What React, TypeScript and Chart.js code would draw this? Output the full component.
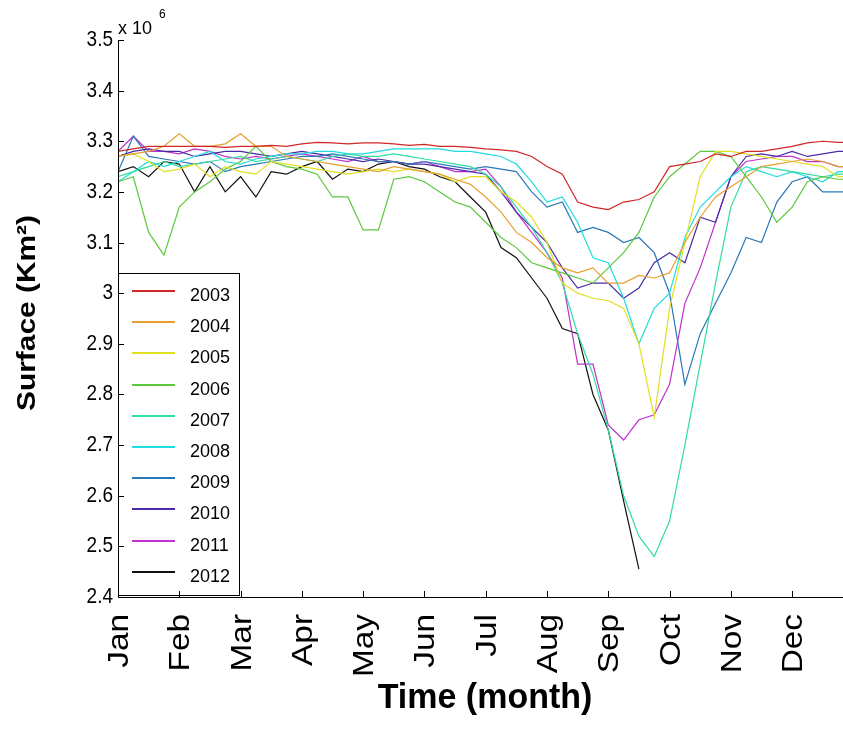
import { useEffect, useRef } from 'react';
import { Chart, registerables } from 'chart.js';

Chart.register(...registerables);

const MONTHS = ['Jan', 'Feb', 'Mar', 'Apr', 'May', 'Jun', 'Jul', 'Aug', 'Sep', 'Oct', 'Nov', 'Dec'];
const MONTH_TICKS = [0, 1, 2, 3, 4, 5, 6, 7, 8, 9, 10, 11];
const Y_TICKS = [2.4, 2.5, 2.6, 2.7, 2.8, 2.9, 3.0, 3.1, 3.2, 3.3, 3.4, 3.5];
const YEARS = ['2003', '2004', '2005', '2006', '2007', '2008', '2009', '2010', '2011', '2012'];
const COLORS = ['#d02828', '#e6a030', '#e0e020', '#5cc83c', '#30dda0', '#20dce0', '#2a78b8', '#4b2aa8', '#c030cc', '#111111'];

// time in months since Jan 1
const T = [0, 0.25, 0.5, 0.75, 1, 1.25, 1.5, 1.75, 2, 2.25, 2.5, 2.75, 3, 3.25, 3.5, 3.75, 4, 4.25, 4.5, 4.75, 5, 5.25, 5.5, 5.75, 6, 6.25, 6.5, 6.75, 7, 7.25, 7.5, 7.75, 8, 8.25, 8.5, 8.75, 9, 9.25, 9.5, 9.75, 10, 10.25, 10.5, 10.75, 11, 11.25, 11.5, 11.75, 12];

// surface, x 10^6 km2
const S2003 = [3.28, 3.285, 3.29, 3.29, 3.29, 3.29, 3.29, 3.288, 3.29, 3.29, 3.292, 3.29, 3.295, 3.298, 3.297, 3.295, 3.297, 3.297, 3.295, 3.292, 3.294, 3.29, 3.29, 3.288, 3.285, 3.283, 3.28, 3.27, 3.25, 3.235, 3.18, 3.17, 3.165, 3.18, 3.185, 3.2, 3.25, 3.255, 3.26, 3.275, 3.27, 3.28, 3.28, 3.285, 3.29, 3.297, 3.3, 3.298, 3.298];
const S2004 = [3.27, 3.275, 3.28, 3.29, 3.315, 3.29, 3.29, 3.295, 3.315, 3.29, 3.29, 3.27, 3.265, 3.26, 3.255, 3.25, 3.245, 3.24, 3.25, 3.245, 3.24, 3.235, 3.225, 3.215, 3.19, 3.16, 3.12, 3.1, 3.07, 3.05, 3.04, 3.05, 3.02, 3.02, 3.035, 3.03, 3.04, 3.1, 3.15, 3.19, 3.21, 3.23, 3.25, 3.255, 3.26, 3.265, 3.26, 3.25, 3.25];
const S2005 = [3.27, 3.275, 3.26, 3.24, 3.245, 3.255, 3.23, 3.25, 3.24, 3.235, 3.26, 3.255, 3.25, 3.245, 3.24, 3.235, 3.24, 3.245, 3.24, 3.245, 3.24, 3.235, 3.22, 3.23, 3.23, 3.2, 3.18, 3.15, 3.1, 3.02, 3.0, 2.99, 2.985, 2.97, 2.9, 2.755, 2.97, 3.1, 3.23, 3.28, 3.28, 3.275, 3.27, 3.265, 3.26, 3.255, 3.25, 3.23, 3.23];
const S2006 = [3.22, 3.23, 3.12, 3.075, 3.17, 3.2, 3.22, 3.245, 3.26, 3.29, 3.26, 3.25, 3.245, 3.235, 3.19, 3.19, 3.125, 3.125, 3.225, 3.23, 3.22, 3.2, 3.18, 3.17, 3.14, 3.11, 3.09, 3.06, 3.05, 3.04, 3.03, 3.02, 3.05, 3.08, 3.12, 3.19, 3.23, 3.255, 3.28, 3.28, 3.27, 3.23, 3.19, 3.14, 3.17, 3.22, 3.23, 3.225, 3.225];
const S2007 = [3.23, 3.24, 3.25, 3.26, 3.25, 3.255, 3.26, 3.265, 3.27, 3.26, 3.265, 3.27, 3.265, 3.26, 3.27, 3.275, 3.27, 3.27, 3.275, 3.27, 3.265, 3.26, 3.255, 3.25, 3.235, 3.21, 3.17, 3.13, 3.08, 3.02, 2.92, 2.84, 2.73, 2.6, 2.52, 2.48, 2.55, 2.7, 2.86, 3.02, 3.17, 3.24, 3.25, 3.245, 3.24, 3.235, 3.23, 3.235, 3.235];
const S2008 = [3.22, 3.24, 3.26, 3.25, 3.26, 3.27, 3.28, 3.26, 3.255, 3.265, 3.27, 3.275, 3.275, 3.28, 3.28, 3.275, 3.275, 3.28, 3.285, 3.285, 3.285, 3.285, 3.28, 3.28, 3.275, 3.27, 3.255, 3.22, 3.18, 3.19, 3.14, 3.07, 3.06, 2.99, 2.9, 2.97, 3.0, 3.11, 3.17, 3.2, 3.23, 3.25, 3.24, 3.23, 3.24, 3.23, 3.22, 3.24, 3.24];
const S2009 = [3.24, 3.31, 3.27, 3.265, 3.26, 3.255, 3.26, 3.24, 3.25, 3.255, 3.26, 3.265, 3.27, 3.27, 3.275, 3.27, 3.265, 3.26, 3.26, 3.255, 3.26, 3.255, 3.25, 3.245, 3.25, 3.245, 3.24, 3.2, 3.17, 3.18, 3.12, 3.13, 3.12, 3.1, 3.11, 3.08, 3.0, 2.82, 2.92, 2.98, 3.04, 3.11, 3.1, 3.18, 3.22, 3.23, 3.2, 3.2, 3.2];
const S2010 = [3.27, 3.28, 3.285, 3.28, 3.28, 3.27, 3.275, 3.28, 3.28, 3.275, 3.27, 3.275, 3.28, 3.275, 3.27, 3.265, 3.26, 3.265, 3.26, 3.255, 3.255, 3.25, 3.245, 3.24, 3.235, 3.2, 3.16, 3.13, 3.1, 3.05, 3.01, 3.02, 3.02, 2.99, 3.01, 3.06, 3.08, 3.06, 3.15, 3.14, 3.23, 3.27, 3.275, 3.27, 3.28, 3.27, 3.275, 3.28, 3.28];
const S2011 = [3.28, 3.31, 3.28, 3.28, 3.275, 3.285, 3.28, 3.27, 3.265, 3.27, 3.265, 3.27, 3.275, 3.27, 3.265, 3.26, 3.27, 3.26, 3.26, 3.255, 3.26, 3.25, 3.24, 3.24, 3.245, 3.21, 3.16, 3.12, 3.08, 3.03, 2.86, 2.86, 2.74, 2.71, 2.75, 2.76, 2.82, 2.98, 3.05, 3.14, 3.23, 3.26, 3.265, 3.27, 3.27, 3.26, 3.26, 3.25, 3.25];
const S2012 = [3.24, 3.25, 3.23, 3.26, 3.255, 3.2, 3.25, 3.2, 3.23, 3.19, 3.24, 3.235, 3.25, 3.26, 3.225, 3.245, 3.24, 3.255, 3.26, 3.25, 3.245, 3.23, 3.22, 3.19, 3.16, 3.09, 3.07, 3.03, 2.99, 2.93, 2.92, 2.8, 2.73, 2.59, 2.455, null, null, null, null, null, null, null, null, null, null, null, null, null, null];

const SERIES = [S2003, S2004, S2005, S2006, S2007, S2008, S2009, S2010, S2011, S2012];

const FONT = '"Liberation Sans", Arial, Helvetica, sans-serif';

function stretchedText(ctx: CanvasRenderingContext2D, text: string, x: number, y: number, font: string, sy: number, rot: number, align: CanvasTextAlign) {
  ctx.save();
  ctx.translate(x, y);
  ctx.scale(1, sy);
  if (rot) ctx.rotate(rot);
  ctx.font = font;
  ctx.fillStyle = '#000';
  ctx.textAlign = align;
  ctx.textBaseline = 'middle';
  ctx.fillText(text, 0, 0);
  ctx.restore();
}

const decor = {
  id: 'decor',
  afterDraw(chart: any) {
    const ctx: CanvasRenderingContext2D = chart.ctx;
    const { left, right, top, bottom } = chart.chartArea;
    const xS = chart.scales.x;
    const yS = chart.scales.y;

    // legend box
    const lx = left, ly = 273, lw = 121, lh = 322;
    ctx.save();
    ctx.fillStyle = '#ffffff';
    ctx.fillRect(lx, ly, lw, lh);
    ctx.strokeStyle = '#000000';
    ctx.lineWidth = 1;
    ctx.strokeRect(lx + 0.5, ly + 0.5, lw, lh);
    for (let i = 0; i < YEARS.length; i++) {
      const yy = Math.round(291 + i * 31.2);
      ctx.beginPath();
      ctx.strokeStyle = COLORS[i];
      ctx.lineWidth = 2;
      ctx.moveTo(lx + 14, yy);
      ctx.lineTo(lx + 57, yy);
      ctx.stroke();
      ctx.font = '18px ' + FONT;
      ctx.fillStyle = '#000000';
      ctx.textAlign = 'left';
      ctx.textBaseline = 'middle';
      ctx.fillText(YEARS[i], lx + 72, yy + 5);
    }
    ctx.restore();

    // axes
    ctx.save();
    ctx.strokeStyle = '#000000';
    ctx.lineWidth = 1;
    ctx.beginPath();
    ctx.moveTo(left + 0.5, top);
    ctx.lineTo(left + 0.5, bottom + 1);
    ctx.moveTo(left, bottom + 0.5);
    ctx.lineTo(right, bottom + 0.5);
    ctx.stroke();

    // y ticks (inward) and labels
    Y_TICKS.forEach((v) => {
      const py = Math.round(yS.getPixelForValue(v)) + 0.5;
      ctx.beginPath();
      ctx.moveTo(left, py);
      ctx.lineTo(left + 6, py);
      ctx.stroke();
      stretchedText(ctx, String(Number(v.toFixed(1))), left - 5, py, '19px ' + FONT, 1.12, 0, 'right');
    });

    // x ticks (inward) and labels
    MONTH_TICKS.forEach((m, i) => {
      const px = Math.round(xS.getPixelForValue(m)) + 0.5;
      ctx.beginPath();
      ctx.moveTo(px, bottom);
      ctx.lineTo(px, bottom - 6);
      ctx.stroke();
      stretchedText(ctx, MONTHS[i], px + 1, bottom + 17, '29px ' + FONT, 1.15, -Math.PI / 2, 'right');
    });
    ctx.restore();

    // exponent
    ctx.save();
    ctx.fillStyle = '#000000';
    ctx.textBaseline = 'alphabetic';
    ctx.textAlign = 'left';
    ctx.font = '18px ' + FONT;
    ctx.fillText('x 10', left, 34);
    ctx.font = '12px ' + FONT;
    ctx.fillText('6', left + 41, 18);
    ctx.restore();

    // axis titles
    stretchedText(ctx, 'Surface (Km\u00B2)', 28, 313, 'bold 26px ' + FONT, 1.15, -Math.PI / 2, 'center');
    stretchedText(ctx, 'Time (month)', 485, 698, 'bold 34px ' + FONT, 1.05, 0, 'center');
  },
};

export default function App() {
  const ref = useRef<HTMLCanvasElement>(null);
  useEffect(() => {
    const canvas = ref.current;
    if (!canvas) return;
    const chart = new Chart(canvas, {
      type: 'line',
      data: {
        datasets: SERIES.map((s, i) => ({
          label: YEARS[i],
          data: T.map((t, j) => ({ x: t, y: s[j] })),
          borderColor: COLORS[i],
          backgroundColor: COLORS[i],
          borderWidth: 1.2,
          pointRadius: 0,
          tension: 0,
          spanGaps: false,
          fill: false,
        })),
      },
      options: {
        responsive: false,
        animation: false,
        devicePixelRatio: 1,
        layout: { padding: { left: 0, right: 0, top: 40, bottom: 143 } },
        plugins: { legend: { display: false }, tooltip: { enabled: false }, title: { display: false } },
        scales: {
          x: {
            type: 'linear',
            min: 0,
            max: 11.83,
            grid: { display: false },
            border: { display: false },
            ticks: { display: false },
            afterFit: (s: any) => { s.height = 0; },
          },
          y: {
            type: 'linear',
            min: 2.4,
            max: 3.5,
            grid: { display: false },
            border: { display: false },
            ticks: { display: false },
            afterFit: (s: any) => { s.width = 118; },
          },
        },
      } as any,
      plugins: [decor],
    });
    return () => chart.destroy();
  }, []);
  return (
    <canvas
      ref={ref}
      width={843}
      height={740}
      style={{ position: 'absolute', left: 0, top: 0, width: 843, height: 740 }}
    />
  );
}
